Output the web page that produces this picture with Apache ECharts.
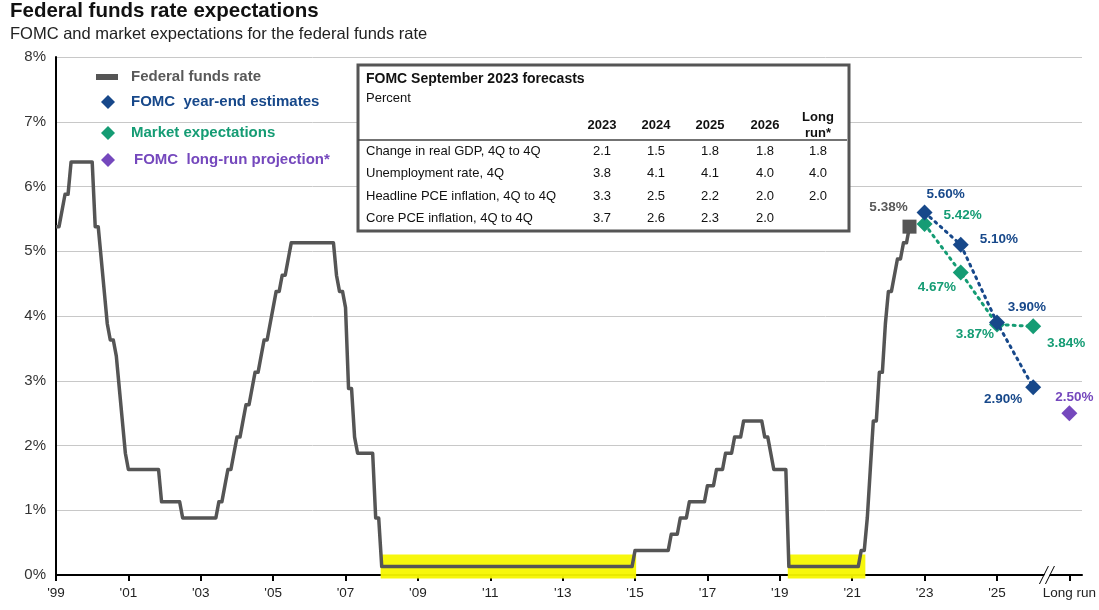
<!DOCTYPE html>
<html>
<head>
<meta charset="utf-8">
<title>Federal funds rate expectations</title>
<script src="https://cdn.jsdelivr.net/npm/echarts@6/dist/echarts.min.js"></script>
<style>
    * { margin: 0; padding: 0; }
    html, body { width: 100%; height: 100%; background: #fff; }
    #main { width: 1099px; height: 610px; }
</style>
</head>
<body>
<div id="main"></div>
<script>
// federal funds rate (upper bound - 12.5bp), month-end vertices of the line
var ffrMonths = [
    '1999-12','2000-01','2000-02','2000-03','2000-04','2000-05','2000-12',
    '2001-01','2001-02','2001-03','2001-04','2001-05','2001-06','2001-07','2001-08','2001-09','2001-10','2001-11','2001-12',
    '2002-10','2002-11','2003-05','2003-06','2004-05','2004-06','2004-07','2004-08','2004-09','2004-10','2004-11','2004-12',
    '2005-01','2005-02','2005-03','2005-04','2005-05','2005-06','2005-07','2005-08','2005-09','2005-10','2005-11','2005-12',
    '2006-01','2006-02','2006-03','2006-04','2006-05','2006-06','2007-08','2007-09','2007-10','2007-11','2007-12',
    '2008-01','2008-02','2008-03','2008-04','2008-09','2008-10','2008-11','2008-12',
    '2015-11','2015-12','2016-11','2016-12','2017-02','2017-03','2017-05','2017-06','2017-11','2017-12',
    '2018-02','2018-03','2018-05','2018-06','2018-08','2018-09','2018-11','2018-12',
    '2019-06','2019-07','2019-08','2019-09','2019-10','2020-02','2020-03',
    '2022-02','2022-03','2022-04','2022-05','2022-06','2022-07','2022-08','2022-09','2022-10','2022-11','2022-12',
    '2023-01','2023-02','2023-03','2023-04','2023-05','2023-06','2023-07'
];
var ffrRates = [
    5.38,5.38,5.63,5.88,5.88,6.38,6.38,
    5.38,5.38,4.88,4.38,3.88,3.63,3.63,3.38,2.88,2.38,1.88,1.63,
    1.63,1.13,1.13,0.88,0.88,1.13,1.13,1.38,1.63,1.63,1.88,2.13,
    2.13,2.38,2.63,2.63,2.88,3.13,3.13,3.38,3.63,3.63,3.88,4.13,
    4.38,4.38,4.63,4.63,4.88,5.13,5.13,4.63,4.38,4.38,4.13,
    2.88,2.88,2.13,1.88,1.88,0.88,0.88,0.13,
    0.13,0.38,0.38,0.63,0.63,0.88,0.88,1.13,1.13,1.38,
    1.38,1.63,1.63,1.88,1.88,2.13,2.13,2.38,
    2.38,2.13,2.13,1.88,1.63,1.63,0.13,
    0.13,0.38,0.38,0.88,1.63,2.38,2.38,3.13,3.13,3.88,4.38,
    4.38,4.63,4.88,4.88,5.13,5.13,5.38
];

// highlighted near-zero periods
var zeroSpans = [['2008-12', '2015-12'], ['2020-03', '2022-04']];
var zeroLevel = 0.13;

// year-end projections
var forecastYears = [2023, 2024, 2025, 2026];
var fomcEstimates = [5.60, 5.10, 3.90, 2.90];
var marketExpect = [5.42, 4.67, 3.87, 3.84];
var longRunValue = 2.50;
var lastRateLabel = '5.38%';

var tickLabels = ["'99", "'01", "'03", "'05", "'07", "'09", "'11", "'13", "'15", "'17", "'19", "'21", "'23", "'25", 'Long run'];

// FOMC table
var tableCols = ['2023', '2024', '2025', '2026', 'Long\nrun*'];
var tableRows = ['Change in real GDP, 4Q to 4Q', 'Unemployment rate, 4Q', 'Headline PCE inflation, 4Q to 4Q', 'Core PCE inflation, 4Q to 4Q'];
var tableVals = [
    [2.1, 1.5, 1.8, 1.8, 1.8],
    [3.8, 4.1, 4.1, 4.0, 4.0],
    [3.3, 2.5, 2.2, 2.0, 2.0],
    [3.7, 2.6, 2.3, 2.0, null]
];

var GRAY = '#555555', NAVY = '#17488a', GREEN = '#159c74', PURPLE = '#7548bd';
var FONT = '"Liberation Sans", Arial, sans-serif';

// month-end position; tick 'YY marks the end of year YY
function mx(s) {
    var p = s.split('-');
    return +p[0] + (+p[1]) / 12;
}
function yearEnd(y) { return y + 1; }
var longRunX = 2028;

var ffrData = ffrMonths.map(function (m, i) { return [mx(m), ffrRates[i]]; });
var zeroData = [];
zeroSpans.forEach(function (s, i) {
    if (i > 0) zeroData.push([null, null]);
    zeroData.push([mx(s[0]) - 0.03, zeroLevel], [mx(s[1]) + 0.03, zeroLevel]);
});

function lbl(color, dx, dy) {
    return {
        show: true, position: 'inside', offset: [dx, dy],
        color: color, fontFamily: FONT, fontWeight: 'bold', fontSize: 13.5,
        formatter: function (p) { return p.value[1].toFixed(2) + '%'; }
    };
}
var navyOff = [[21, -18], [38, -5], [30, -15], [-30, 12]];
var greenOff = [[38, -9], [-24, 15], [-22, 10], [33, 17]];

var fomcData = forecastYears.map(function (y, i) {
    return { value: [yearEnd(y), fomcEstimates[i]], label: lbl(NAVY, navyOff[i][0], navyOff[i][1]) };
});
var marketData = forecastYears.map(function (y, i) {
    return { value: [yearEnd(y), marketExpect[i]], label: lbl(GREEN, greenOff[i][0], greenOff[i][1]) };
});
var lastPt = ffrData[ffrData.length - 1];

var myChart = echarts.init(document.getElementById('main'));

myChart.setOption({
    animation: false,
    grid: { left: 56, right: 14, top: 57, bottom: 35 },
    xAxis: {
        type: 'value', min: 2000, max: 2028.35, interval: 2,
        axisLine: { lineStyle: { color: '#000', width: 2 } },
        axisTick: { show: true, length: 6, lineStyle: { color: '#000', width: 2 } },
        splitLine: { show: false },
        axisLabel: {
            color: '#222', fontSize: 13.5, fontFamily: FONT, margin: 11,
            showMaxLabel: false,
            formatter: function (v) {
                var k = Math.round((v - 2000) / 2);
                return tickLabels[k] || '';
            }
        }
    },
    yAxis: {
        type: 'value', min: 0, max: 8, interval: 1,
        axisLine: { show: true, lineStyle: { color: '#000', width: 2 } },
        axisTick: { show: false },
        splitLine: { lineStyle: { color: '#c8c8c8', width: 1 } },
        axisLabel: { color: '#333', fontSize: 15, fontFamily: FONT, margin: 10, formatter: '{value}%' }
    },
    series: [
        {
            name: 'zero', type: 'line', data: zeroData, symbol: 'none', connectNulls: false,
            lineStyle: { color: '#f7f700', width: 24, opacity: 0.95, cap: 'butt' }, z: 1, silent: true
        },
        {
            name: 'Federal funds rate', type: 'line', data: ffrData, symbol: 'none',
            lineStyle: { color: GRAY, width: 3.5, join: 'round' }, z: 3
        },
        {
            name: 'last', type: 'scatter', data: [lastPt], symbol: 'rect', symbolSize: 14,
            itemStyle: { color: GRAY, opacity: 1 },
            label: { show: true, position: 'inside', offset: [-21, -19], color: '#595959', fontFamily: FONT, fontWeight: 'bold', fontSize: 13.5, formatter: lastRateLabel },
            z: 4
        },
        {
            name: 'Market expectations', type: 'line', data: marketData,
            symbol: 'diamond', symbolSize: 16, itemStyle: { color: GREEN, opacity: 1 },
            lineStyle: { color: GREEN, width: 3, type: [2, 5], cap: 'round' }, z: 5
        },
        {
            name: 'FOMC year-end estimates', type: 'line', data: fomcData,
            symbol: 'diamond', symbolSize: 16, itemStyle: { color: NAVY, opacity: 1 },
            lineStyle: { color: NAVY, width: 3, type: [2, 5], cap: 'round' }, z: 6
        },
        {
            name: 'FOMC long-run projection*', type: 'scatter',
            data: [{ value: [longRunX, longRunValue], label: lbl(PURPLE, 5, -16) }],
            symbol: 'diamond', symbolSize: 16, itemStyle: { color: PURPLE, opacity: 1 }, z: 6
        }
    ]
});

// overlays: titles, legend, table, axis break
var g = [];
g.push({ type: 'text', left: 10, top: 1, style: { text: 'Federal funds rate expectations', font: 'bold 20.5px ' + FONT, fill: '#111' } });
g.push({ type: 'text', left: 10, top: 26, style: { text: 'FOMC and market expectations for the federal funds rate', font: '16.5px ' + FONT, fill: '#222' } });

var legendItems = [
    { text: 'Federal funds rate', color: '#595959', icon: 'line', y: 77 },
    { text: 'FOMC  year-end estimates', color: NAVY, icon: 'diamond', y: 102 },
    { text: 'Market expectations', color: GREEN, icon: 'diamond', y: 133 },
    { text: 'FOMC  long-run projection*', color: PURPLE, icon: 'diamond', y: 160 }
];
legendItems.forEach(function (it, i) {
    if (it.icon === 'line') {
        g.push({ type: 'rect', shape: { x: 96, y: it.y - 3, width: 22, height: 6 }, style: { fill: GRAY } });
    } else {
        g.push({ type: 'polygon', shape: { points: [[108, it.y - 7], [115, it.y], [108, it.y + 7], [101, it.y]] }, style: { fill: it.color } });
    }
    g.push({ type: 'text', x: i === 3 ? 134 : 131, y: it.y, style: { text: it.text, font: 'bold 15px ' + FONT, fill: it.color, verticalAlign: 'middle' } });
});

// table box
var tx = 358, ty = 65, tw = 491, th = 166;
g.push({ type: 'rect', shape: { x: tx, y: ty, width: tw, height: th }, style: { fill: '#fff', stroke: '#555', lineWidth: 3 }, z: 10 });
g.push({ type: 'text', x: 366, y: 79, z: 11, style: { text: 'FOMC September 2023 forecasts', font: 'bold 14px ' + FONT, fill: '#111', verticalAlign: 'middle' } });
g.push({ type: 'text', x: 366, y: 98, z: 11, style: { text: 'Percent', font: '13px ' + FONT, fill: '#111', verticalAlign: 'middle' } });
var colX = [602, 656, 710, 765, 818];
tableCols.forEach(function (c, j) {
    g.push({ type: 'text', x: colX[j], y: 125, z: 11,
        style: { text: c, font: 'bold 13px ' + FONT, fill: '#111', align: 'center', verticalAlign: 'middle', lineHeight: 16 } });
});
g.push({ type: 'line', z: 11, shape: { x1: tx, y1: 140, x2: tx + tw - 2, y2: 140 }, style: { stroke: '#444', lineWidth: 1.5 } });
var rowY = [151, 173, 196, 218];
tableRows.forEach(function (r, i) {
    g.push({ type: 'text', x: 366, y: rowY[i], z: 11, style: { text: r, font: '13px ' + FONT, fill: '#111', verticalAlign: 'middle' } });
    tableVals[i].forEach(function (v, j) {
        if (v === null) return;
        g.push({ type: 'text', x: colX[j], y: rowY[i], z: 11, style: { text: v.toFixed(1), font: '13px ' + FONT, fill: '#111', align: 'center', verticalAlign: 'middle' } });
    });
});

// axis break marks before "Long run"
var bp = myChart.convertToPixel({ xAxisIndex: 0, yAxisIndex: 0 }, [2027.45, 0]);
var bx = bp[0], by = bp[1];
g.push({ type: 'polygon', z: 12, shape: { points: [[bx - 9, by + 8], [bx - 1, by - 8], [bx + 4, by - 8], [bx - 4, by + 8]] }, style: { fill: '#fff' } });
g.push({ type: 'line', z: 13, shape: { x1: bx - 10, y1: by + 9, x2: bx - 1, y2: by - 9 }, style: { stroke: '#000', lineWidth: 1 } });
g.push({ type: 'line', z: 13, shape: { x1: bx - 4, y1: by + 9, x2: bx + 5, y2: by - 9 }, style: { stroke: '#000', lineWidth: 1 } });

myChart.setOption({ graphic: g });
</script>
</body>
</html>
